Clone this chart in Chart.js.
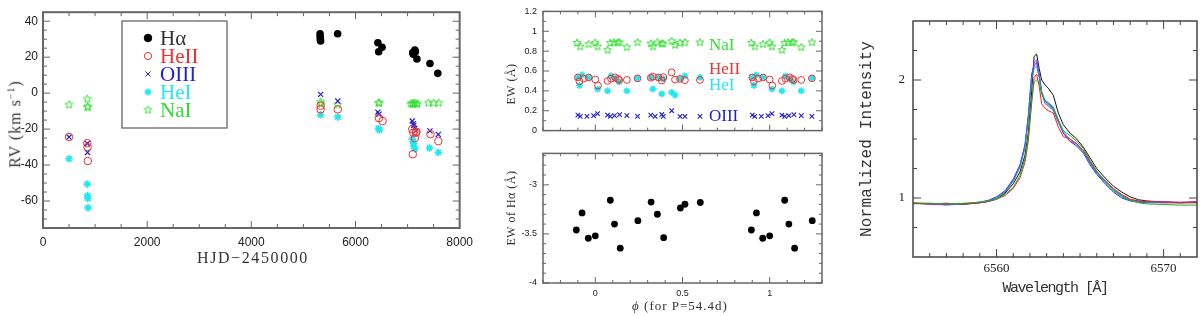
<!DOCTYPE html>
<html><head><meta charset="utf-8">
<script src="https://cdn.jsdelivr.net/npm/chart.js@4"></script>
<style>
html,body{margin:0;padding:0;background:#fff;width:1200px;height:316px;overflow:hidden;position:relative}
canvas{position:absolute}
.t{position:absolute;white-space:nowrap;color:#333;line-height:1}
.rot{transform:translate(-50%,-50%) rotate(-90deg)}
.hc{transform:translate(-50%,-50%)}
</style></head><body>
<canvas id="c1" width="480" height="316" style="left:0;top:0"></canvas>
<canvas id="c2" width="330" height="142" style="left:500px;top:0"></canvas>
<canvas id="c3" width="330" height="174" style="left:500px;top:142px"></canvas>
<canvas id="c4" width="360" height="316" style="left:840px;top:0"></canvas>

<div class="t rot" style="left:15px;top:124px;font:16px 'Liberation Serif';letter-spacing:1px">RV (km s<sup style="font-size:10px">−1</sup>)</div>
<div class="t hc" style="left:253px;top:258px;font:16px 'Liberation Serif';letter-spacing:1.6px">HJD−2450000</div>
<div class="t rot" style="left:511px;top:84px;font:12px 'Liberation Serif';letter-spacing:0.5px">EW (Å)</div>
<div class="t rot" style="left:511px;top:208px;font:12px 'Liberation Serif';letter-spacing:0.5px">EW of Hα (Å)</div>
<div class="t hc" style="left:680px;top:306px;font:13px 'Liberation Serif';letter-spacing:1px"><i>ϕ</i> (for P=54.4d)</div>
<div class="t rot" style="left:867px;top:139px;font:16px 'Liberation Mono';letter-spacing:0.2px">Normalized Intensity</div>
<div class="t hc" style="left:1055px;top:288px;font:15px 'Liberation Mono';letter-spacing:-1.5px">Wavelength [Å]</div>

<script>
// ---------------- Panel 1 : RV vs HJD ----------------
const hjdHa = [5320, 5322, 5325, 5330, 5657, 6430, 6445, 6510, 7140, 7110, 7100, 7150, 7180, 7430, 7580];
const rvHa  = [33, 31.5, 30, 29, 33, 28, 23, 25.5, 24, 21.6, 22.5, 23, 19, 16.5, 11];
const hjdHeII = [500, 850, 855, 860, 5330, 5330, 5660, 6450, 6520, 7090, 7110, 7140, 7160, 7170, 7100, 7440, 7590];
const rvHeII  = [-24.4, -27.8, -30, -37.8, -7, -9, -9, -13.9, -15.5, -20, -22, -25, -22, -21.5, -34, -22.8, -26.7];
const hjdOIII = [500, 850, 855, 5330, 5660, 6430, 6450, 7090, 7110, 7120, 7140, 7160, 7430, 7590];
const rvOIII  = [-24.4, -28, -33, -0.7, -4.4, -10.6, -11.7, -15.5, -17, -18, -19.5, -21, -21, -23];
const hjdHeI = [500, 850, 855, 860, 865, 5330, 5660, 6440, 6460, 7090, 7110, 7120, 7140, 7420, 7590];
const rvHeI  = [-36.5, -50.6, -57, -58.5, -63.8, -12, -13.3, -19.5, -20.5, -25.6, -27.8, -29.5, -31, -30.5, -33];
const hjdNaI = [500, 850, 855, 860, 5330, 5340, 5660, 6440, 6460, 7060, 7090, 7110, 7130, 7160, 7190, 7400, 7500, 7600];
const rvNaI  = [-6.5, -3.3, -7.5, -8, -5, -6, -6.5, -5.5, -5.5, -6, -5.8, -6.2, -5.5, -6, -6, -5.5, -5.5, -5.5];
const p1XTicks = [0, 2000, 4000, 6000, 8000];
const p1YTicks = [-60, -40, -20, 0, 20, 40];
const p1XMinor = [500,1000,1500,2500,3000,3500,4500,5000,5500,6500,7000,7500];
const p1YMinor = [-75,-70,-65,-55,-50,-45,-35,-30,-25,-15,-10,-5,5,10,15,25,30,35,45];
const legendNames = ['Hα', 'HeII', 'OIII', 'HeI', 'NaI'];

// ---------------- Panel 2 : EW vs phase ----------------
const phNaI = [-0.105,-0.086,-0.038,0.0,0.013,0.07,0.086,0.105,0.128,0.139,0.181,0.242,0.318,0.33,0.356,0.381,0.39,0.438,0.457,0.486,0.514,0.6,0.895,0.914,0.962,1.0,1.013,1.07,1.086,1.105,1.128,1.139,1.181,1.242];
const ewNaI = [0.882,0.846,0.869,0.884,0.846,0.81,0.882,0.887,0.887,0.887,0.839,0.887,0.875,0.846,0.887,0.875,0.875,0.90,0.86,0.882,0.887,0.887,0.882,0.846,0.869,0.884,0.846,0.81,0.882,0.887,0.887,0.887,0.839,0.887];
const phHeII = [-0.1,-0.091,-0.067,-0.038,0.0,0.015,0.07,0.09,0.114,0.13,0.137,0.181,0.242,0.318,0.33,0.362,0.381,0.39,0.438,0.457,0.486,0.514,0.6,0.9,0.909,0.933,0.962,1.0,1.015,1.07,1.09,1.114,1.13,1.137,1.181,1.242];
const ewHeII = [0.535,0.496,0.523,0.535,0.514,0.454,0.50,0.523,0.535,0.52,0.51,0.51,0.526,0.532,0.544,0.535,0.505,0.538,0.587,0.514,0.52,0.508,0.51,0.535,0.496,0.523,0.535,0.514,0.454,0.50,0.523,0.535,0.52,0.51,0.51,0.526];
const phHeI = [-0.1,-0.091,-0.076,-0.038,0.013,0.07,0.09,0.114,0.137,0.181,0.242,0.318,0.33,0.362,0.381,0.39,0.438,0.457,0.486,0.514,0.6,0.9,0.909,0.924,0.962,1.013,1.07,1.09,1.114,1.137,1.181,1.242];
const ewHeI = [0.535,0.454,0.56,0.535,0.418,0.40,0.55,0.52,0.49,0.40,0.526,0.535,0.418,0.535,0.37,0.52,0.385,0.358,0.52,0.55,0.535,0.535,0.454,0.56,0.535,0.418,0.40,0.55,0.52,0.49,0.40,0.526];
const phOIII = [-0.1,-0.086,-0.048,-0.01,0.013,0.07,0.086,0.11,0.139,0.181,0.242,0.318,0.343,0.381,0.39,0.438,0.486,0.514,0.6,0.9,0.914,0.952,0.99,1.013,1.07,1.086,1.11,1.139,1.181,1.242];
const ewOIII = [0.155,0.143,0.143,0.15,0.17,0.155,0.143,0.15,0.16,0.15,0.143,0.155,0.143,0.162,0.143,0.2,0.143,0.143,0.143,0.155,0.143,0.143,0.15,0.17,0.155,0.143,0.15,0.16,0.15,0.143];
const phHa = [-0.109,-0.076,-0.04,0.0,0.086,0.11,0.143,0.244,0.32,0.356,0.392,0.488,0.514,0.602,0.895,0.924,0.96,1.0,1.086,1.11,1.143,1.244];
const ewHa = [-3.46,-3.286,-3.544,-3.52,-3.157,-3.40,-3.645,-3.365,-3.176,-3.30,-3.538,-3.236,-3.198,-3.18,-3.46,-3.286,-3.544,-3.52,-3.157,-3.40,-3.645,-3.365];
const p2XTicks = [0, 0.5, 1];
const p2XMinor = [-0.3,-0.2,-0.1,0.1,0.2,0.3,0.4,0.6,0.7,0.8,0.9,1.1,1.2,1.3];
const p2TopYTicks = [0, 0.2, 0.4, 0.6, 0.8, 1, 1.2];
const p2TopYMinor = [0.1, 0.3, 0.5, 0.7, 0.9, 1.1];
const p2BotYTicks = [-4, -3.5, -3];
const p2BotYMinor = [-3.9,-3.8,-3.7,-3.6,-3.4,-3.3,-3.2,-3.1,-2.9,-2.8,-2.7];
const p2Notes = [['NaI', 0.86], ['HeII', 0.61], ['HeI', 0.45], ['OIII', 0.145]];

// ---------------- Panel 3 : H-alpha profiles ----------------
const wave = [6555,6556,6557,6558,6559,6559.5,6560,6560.5,6561,6561.4,6561.7,6561.9,6562.1,6562.25,6562.4,6562.55,6562.7,6562.9,6563.1,6563.4,6563.7,6564,6564.4,6564.8,6565.2,6565.6,6566,6566.5,6567,6567.5,6568,6568.5,6569,6570,6571,6572];
const fluxBlack = [0.955,0.95,0.955,0.945,0.96,0.97,0.99,1.04,1.12,1.22,1.36,1.55,1.9,2.2,2.22,2.1,2.0,1.96,1.93,1.87,1.72,1.62,1.55,1.50,1.43,1.34,1.25,1.17,1.10,1.05,1.01,0.985,0.975,0.965,0.96,0.965];
const fluxRed = [0.955,0.95,0.955,0.95,0.96,0.97,0.99,1.02,1.08,1.17,1.30,1.48,1.8,2.02,2.05,1.95,1.8,1.76,1.74,1.72,1.60,1.52,1.50,1.46,1.40,1.31,1.22,1.15,1.08,1.03,0.99,0.975,0.97,0.965,0.96,0.96];
const fluxGreen = [0.96,0.955,0.95,0.955,0.965,0.975,0.99,1.03,1.09,1.19,1.33,1.52,1.82,1.98,2.0,1.98,1.88,1.82,1.79,1.75,1.66,1.57,1.53,1.48,1.42,1.32,1.23,1.14,1.07,1.02,0.98,0.96,0.95,0.945,0.94,0.94];
const fluxCyan = [0.95,0.955,0.95,0.95,0.96,0.975,1.0,1.05,1.14,1.26,1.42,1.66,2.0,2.1,2.12,2.02,1.9,1.83,1.81,1.77,1.66,1.56,1.50,1.45,1.39,1.29,1.21,1.13,1.06,1.01,0.98,0.97,0.965,0.96,0.96,0.96];
const fluxMagenta = [0.955,0.95,0.94,0.95,0.96,0.975,1.0,1.05,1.15,1.27,1.44,1.68,2.02,2.15,2.17,2.05,1.9,1.8,1.78,1.74,1.64,1.55,1.48,1.46,1.40,1.30,1.22,1.14,1.07,1.02,0.985,0.975,0.97,0.97,0.965,0.97];
const fluxBlue = [0.955,0.95,0.945,0.95,0.965,0.98,1.01,1.06,1.16,1.28,1.45,1.7,2.05,2.12,2.15,2.05,1.9,1.82,1.80,1.76,1.66,1.55,1.48,1.44,1.38,1.28,1.20,1.12,1.05,1.0,0.975,0.965,0.96,0.96,0.96,0.965];
const p3XTicks = [6560, 6570];
const p3XMinor = [6556,6557,6558,6559,6561,6562,6563,6564,6565,6566,6567,6568,6569,6571];
const p3YTicks = [1, 2];
const p3YMinor = [0.75, 1.25, 1.5, 1.75, 2.25];

// ---------------- styles ----------------
const C = {ha:'#000000', heii:'#ee3333', oiii:'#2222cc', hei:'#22e8f0', nai:'#33dd33', frame:'#666666'};

function starCanvas(r, color, lw){
  const s = Math.ceil(2*r+2*lw+2); const c = document.createElement('canvas'); c.width = s; c.height = s;
  const g = c.getContext('2d'); g.strokeStyle = color; g.lineWidth = lw; g.beginPath();
  for(let i=0;i<10;i++){ const a = -Math.PI/2 + i*Math.PI/5; const rr = i%2===0 ? r : r*0.45;
    const x = s/2 + rr*Math.cos(a), y = s/2 + rr*Math.sin(a); if(i===0) g.moveTo(x,y); else g.lineTo(x,y); }
  g.closePath(); g.stroke(); return c;
}
const star1 = starCanvas(4.2, C.nai, 1);
const star2 = starCanvas(4, C.nai, 1);

const frameTicks = {
  id:'frameTicks',
  afterDraw(chart, args, o){
    const {ctx, chartArea:a} = chart; const xs = chart.scales.x, ys = chart.scales.y;
    ctx.save(); ctx.strokeStyle = o.color || C.frame; ctx.lineWidth = o.tw || 1;
    ctx.beginPath();
    const vx = (vals, len) => vals.forEach(v => { const p = xs.getPixelForValue(v); if(p < a.left-0.5 || p > a.right+0.5) return;
      ctx.moveTo(p, a.bottom); ctx.lineTo(p, a.bottom-len); ctx.moveTo(p, a.top); ctx.lineTo(p, a.top+len); });
    const vy = (vals, len) => vals.forEach(v => { const p = ys.getPixelForValue(v); if(p < a.top-0.5 || p > a.bottom+0.5) return;
      ctx.moveTo(a.left, p); ctx.lineTo(a.left+len, p); ctx.moveTo(a.right, p); ctx.lineTo(a.right-len, p); });
    vx(o.xMaj, o.maj); vx(o.xMin, o.min); vy(o.yMaj, o.maj); vy(o.yMin, o.min);
    ctx.stroke();
    ctx.lineWidth = o.fw || 2; ctx.strokeRect(a.left, a.top, a.right-a.left, a.bottom-a.top);
    ctx.restore();
  }
};
const legendPlugin = {
  id:'boxLegend',
  afterDraw(chart){
    const ctx = chart.ctx; ctx.save();
    ctx.strokeStyle = C.frame; ctx.lineWidth = 1.3; ctx.strokeRect(122, 21, 105, 107);
    const rows = [[C.ha,'circle',true],[C.heii,'circle',false],[C.oiii,'crossRot',false],[C.hei,'star',false],[C.nai,star1,false]];
    const tcol = ['#333333', C.heii, C.oiii, C.hei, C.nai];
    rows.forEach((r,i) => {
      const y = 38 + i*18;
      ctx.fillStyle = r[2] ? r[0] : 'rgba(0,0,0,0)'; ctx.strokeStyle = r[0]; ctx.lineWidth = (r[1]==='star') ? 1.5 : 1;
      Chart.helpers.drawPoint(ctx, {pointStyle:r[1], radius: r[2] ? 3.8 : 3.6, rotation:0, borderWidth:1}, 148, y);
      ctx.fillStyle = tcol[i]; ctx.font = '21px "Liberation Serif"'; ctx.textBaseline = 'middle'; ctx.textAlign = 'left';
      ctx.fillText(legendNames[i], 160, y+1);
    });
    ctx.restore();
  }
};
const notesPlugin = {
  id:'notes',
  afterDraw(chart){
    const ctx = chart.ctx; const ys = chart.scales.y; const cols = [C.nai, C.heii, C.hei, C.oiii];
    ctx.save(); ctx.font = '17px "Liberation Serif"'; ctx.textBaseline = 'middle'; ctx.textAlign = 'left';
    p2Notes.forEach((n,i) => { ctx.fillStyle = cols[i]; ctx.fillText(n[0], 209, ys.getPixelForValue(n[1])); });
    ctx.restore();
  }
};

function xy(xa, ya){ return xa.map((v,i) => ({x:v, y:ya[i]})); }
function setTicks(vals){ return s => { s.ticks = vals.map(v => ({value:v})); }; }
function lin(min, max, ticks, font, pad, fit, display=true){
  return {type:'linear', min, max, display,
    grid:{display:false, drawTicks:false}, border:{display:false},
    afterBuildTicks:setTicks(ticks),
    ticks:{font, color:'#222', padding:pad, autoSkip:false, maxRotation:0, callback:v => String(v)},
    afterFit:fit};
}
Chart.defaults.animation = false;
Chart.defaults.responsive = false;
Chart.defaults.plugins.legend.display = false;
Chart.defaults.plugins.tooltip.enabled = false;

const sans12 = {family:'Liberation Sans', size:12};
const sans9 = {family:'Liberation Sans', size:9};

// Panel 1
new Chart(document.getElementById('c1'), {
  type:'scatter',
  data:{datasets:[
    {data:xy(hjdHa, rvHa), pointStyle:'circle', pointRadius:3.8, backgroundColor:C.ha, borderColor:C.ha, borderWidth:0},
    {data:xy(hjdHeII, rvHeII), pointStyle:'circle', pointRadius:3.8, backgroundColor:'rgba(0,0,0,0)', borderColor:C.heii, borderWidth:1},
    {data:xy(hjdOIII, rvOIII), pointStyle:'crossRot', pointRadius:3.6, borderColor:C.oiii, borderWidth:1.2},
    {data:xy(hjdHeI, rvHeI), pointStyle:'star', pointRadius:3.8, borderColor:C.hei, borderWidth:1.6},
    {data:xy(hjdNaI, rvNaI), pointStyle:star1, pointRadius:4, borderColor:C.nai}
  ]},
  options:{
    layout:{padding:{top:10, right:17, left:0, bottom:0}},
    scales:{
      x: lin(0, 8000, p1XTicks, sans12, 7, s => { s.height = 88; }),
      y: lin(-75, 45, p1YTicks, sans12, 5, s => { s.width = 43; })
    },
    plugins:{frameTicks:{xMaj:p1XTicks, xMin:p1XMinor, yMaj:p1YTicks, yMin:p1YMinor, maj:7, min:4, fw:2, tw:1}}
  },
  plugins:[frameTicks, legendPlugin]
});

// Panel 2 top
new Chart(document.getElementById('c2'), {
  type:'scatter',
  data:{datasets:[
    {data:xy(phHeII, ewHeII), pointStyle:'circle', pointRadius:3.4, backgroundColor:'rgba(0,0,0,0)', borderColor:C.heii, borderWidth:1},
    {data:xy(phHeI, ewHeI), pointStyle:'star', pointRadius:3.4, borderColor:C.hei, borderWidth:1.6},
    {data:xy(phOIII, ewOIII), pointStyle:'crossRot', pointRadius:3.2, borderColor:C.oiii, borderWidth:1.1},
    {data:xy(phNaI, ewNaI), pointStyle:star2, pointRadius:4, borderColor:C.nai}
  ]},
  options:{
    layout:{padding:{top:4, right:8, left:0, bottom:5}},
    scales:{
      x: lin(-0.3, 1.3, p2XTicks, sans9, 4, s => {}, false),
      y: lin(0, 1.2, p2TopYTicks, sans9, 6, s => { s.width = 43; })
    },
    plugins:{frameTicks:{xMaj:p2XTicks, xMin:p2XMinor, yMaj:p2TopYTicks, yMin:p2TopYMinor, maj:6, min:3, fw:1.5, tw:1}}
  },
  plugins:[frameTicks, notesPlugin]
});

// Panel 2 bottom
new Chart(document.getElementById('c3'), {
  type:'scatter',
  data:{datasets:[
    {data:xy(phHa, ewHa), pointStyle:'circle', pointRadius:3.4, backgroundColor:C.ha, borderColor:C.ha, borderWidth:0}
  ]},
  options:{
    layout:{padding:{top:3, right:8, left:0, bottom:0}},
    scales:{
      x: lin(-0.3, 1.3, p2XTicks, sans9, 5, s => { s.height = 33; }),
      y: lin(-4, -2.68, p2BotYTicks, sans9, 6, s => { s.width = 43; })
    },
    plugins:{frameTicks:{xMaj:p2XTicks, xMin:p2XMinor, yMaj:p2BotYTicks, yMin:p2BotYMinor, maj:6, min:3, fw:1.5, tw:1}}
  },
  plugins:[frameTicks]
});

// Panel 3
const lineDs = (f, c) => ({data:xy(wave, f), borderColor:c, borderWidth:1, pointRadius:0, tension:0, fill:false});
new Chart(document.getElementById('c4'), {
  type:'line',
  data:{datasets:[
    lineDs(fluxGreen, '#22aa22'), lineDs(fluxRed, '#ee2222'), lineDs(fluxCyan, '#1199cc'),
    lineDs(fluxMagenta, '#9933cc'), lineDs(fluxBlue, '#2233ee'), lineDs(fluxBlack, '#111111')
  ]},
  options:{
    layout:{padding:{top:21, right:3, left:0, bottom:0}},
    scales:{
      x: lin(6555, 6572, p3XTicks, {family:'Liberation Serif', size:13}, 4, s => { s.height = 59; }),
      y: lin(0.5, 2.5, p3YTicks, {family:'Liberation Serif', size:13}, 8, s => { s.width = 73; })
    },
    plugins:{frameTicks:{xMaj:p3XTicks, xMin:p3XMinor, yMaj:p3YTicks, yMin:p3YMinor, maj:8, min:4, fw:1.5, tw:1, color:'#444'}}
  },
  plugins:[frameTicks]
});
</script>
</body></html>
